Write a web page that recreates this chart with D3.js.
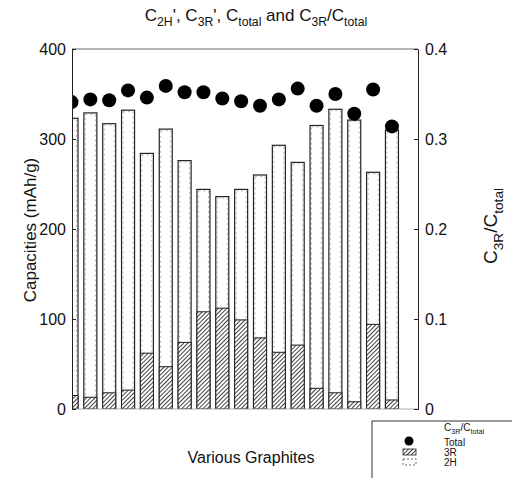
<!DOCTYPE html>
<html>
<head>
<meta charset="utf-8">
<script src="https://cdn.jsdelivr.net/npm/d3@7"></script>
<style>
  body { margin: 0; background: #fff; }
  text { font-family: "Liberation Sans", Arial, sans-serif; fill: #111; }
</style>
</head>
<body>
<div id="chart"></div>
<script>
// graphite samples (no labels shown on the axis)
const graphites = ["G1", "G2", "G3", "G4", "G5", "G6", "G7", "G8", "G9",
  "G10", "G11", "G12", "G13", "G14", "G15", "G16", "G17", "G18"];

// total capacity (mAh/g)
const totalCap = [323, 329, 317, 332, 284, 311, 276, 244, 236, 244, 260, 293, 274, 315, 333, 321, 263, 310];
// 3R capacity (mAh/g)
const cap3R = [15, 13, 18, 21, 62, 47, 74, 108, 112, 99, 79, 63, 71, 23, 18, 8, 94, 10];
// C3R / Ctotal (right axis)
const ratio = [0.341, 0.344, 0.343, 0.354, 0.346, 0.359, 0.352, 0.352, 0.345,
  0.342, 0.337, 0.344, 0.356, 0.337, 0.350, 0.328, 0.355, 0.314];

const leftTicks = [0, 100, 200, 300, 400];
const rightTicks = [0, 0.1, 0.2, 0.3, 0.4];

const bigWidth = 512, bigHeight = 478;
const plot = {left: 72, right: 418, top: 49, bottom: 409};

const svg = d3.select("#chart").append("svg")
  .attr("width", bigWidth)
  .attr("height", bigHeight);

const defs = svg.append("defs");
defs.append("clipPath").attr("id", "clip")
  .append("rect")
  .attr("x", plot.left).attr("y", 30)
  .attr("width", plot.right - plot.left).attr("height", plot.bottom - 30);

// hatch for the 3R part
const hatch = defs.append("pattern")
  .attr("id", "hatch")
  .attr("patternUnits", "userSpaceOnUse")
  .attr("width", 3).attr("height", 3)
  .attr("patternTransform", "rotate(45)");
hatch.append("rect").attr("width", 3).attr("height", 3).attr("fill", "#fff");
hatch.append("line")
  .attr("x1", 0).attr("y1", 0).attr("x2", 0).attr("y2", 3)
  .attr("stroke", "#111").attr("stroke-width", 1.6);

// scales
const step = 18.85;
const x0 = 71.5 - step / 2;
const xScale = d3.scaleBand()
  .domain(graphites)
  .range([x0, x0 + step * graphites.length])
  .paddingInner(0.31)
  .paddingOuter(0.155);

const yLeft = d3.scaleLinear().domain([0, 400]).range([plot.bottom, plot.top]);
const yRight = d3.scaleLinear().domain([0, 0.4]).range([plot.bottom, plot.top]);

const marks = svg.append("g").attr("clip-path", "url(#clip)");

// total bars (outline)
marks.selectAll(".total")
  .data(graphites)
  .enter().append("rect")
  .attr("class", "total")
  .attr("x", d => xScale(d))
  .attr("y", (d, i) => yLeft(totalCap[i]))
  .attr("width", xScale.bandwidth())
  .attr("height", (d, i) => yLeft(0) - yLeft(totalCap[i]))
  .attr("fill", "#fff")
  .attr("stroke", "#222")
  .attr("stroke-width", 1.2);

// 2H part, dashed, stacked above 3R
marks.selectAll(".h2")
  .data(graphites)
  .enter().append("rect")
  .attr("class", "h2")
  .attr("x", d => xScale(d) + 1.5)
  .attr("y", (d, i) => yLeft(totalCap[i]) + 1.5)
  .attr("width", xScale.bandwidth() - 3)
  .attr("height", (d, i) => yLeft(cap3R[i]) - yLeft(totalCap[i]) - 1.5)
  .attr("fill", "none")
  .attr("stroke", "#888")
  .attr("stroke-width", 0.6)
  .attr("stroke-dasharray", "2,3");

// 3R part, hatched
marks.selectAll(".r3")
  .data(graphites)
  .enter().append("rect")
  .attr("class", "r3")
  .attr("x", d => xScale(d))
  .attr("y", (d, i) => yLeft(cap3R[i]))
  .attr("width", xScale.bandwidth())
  .attr("height", (d, i) => yLeft(0) - yLeft(cap3R[i]))
  .attr("fill", "url(#hatch)")
  .attr("stroke", "#222")
  .attr("stroke-width", 1);

// ratio dots
marks.selectAll(".dot")
  .data(graphites)
  .enter().append("circle")
  .attr("class", "dot")
  .attr("cx", d => xScale(d) + xScale.bandwidth() / 2)
  .attr("cy", (d, i) => yRight(ratio[i]))
  .attr("r", 7)
  .attr("fill", "#000");

// frame
svg.append("line")
  .attr("x1", plot.left).attr("x2", plot.right)
  .attr("y1", plot.top).attr("y2", plot.top)
  .attr("stroke", "#666").attr("stroke-width", 1);
svg.append("line")
  .attr("x1", plot.left).attr("x2", plot.right)
  .attr("y1", plot.bottom).attr("y2", plot.bottom)
  .attr("stroke", "#999").attr("stroke-width", 0.8);

// left axis
const leftAxis = svg.append("g")
  .attr("transform", `translate(${plot.left},0)`)
  .call(d3.axisLeft(yLeft).tickValues(leftTicks).tickSize(-4).tickPadding(6).tickFormat(d3.format("d")));
leftAxis.select(".domain").attr("stroke", "#222");
leftAxis.selectAll("line").attr("stroke", "#222");
leftAxis.selectAll("text").attr("font-size", 16).style("font-family", "Liberation Sans, Arial, sans-serif");

// right axis
const rightAxis = svg.append("g")
  .attr("transform", `translate(${plot.right},0)`)
  .call(d3.axisRight(yRight).tickValues(rightTicks).tickSize(-4).tickPadding(7)
    .tickFormat(d => d === 0 ? "0" : d3.format(".1f")(d)));
rightAxis.select(".domain").attr("stroke", "#222");
rightAxis.selectAll("line").attr("stroke", "#222");
rightAxis.selectAll("text").attr("font-size", 16).style("font-family", "Liberation Sans, Arial, sans-serif");

// text with subscripts
function subText(sel, parts, size) {
  parts.forEach(p => {
    const t = sel.append("tspan").text(p[0]);
    if (p[1]) t.attr("font-size", size * 0.72).attr("dy", size * 0.3);
    else if (p[2]) t.attr("dy", -size * 0.3);
  });
}

const title = svg.append("text")
  .attr("x", 256).attr("y", 21)
  .attr("text-anchor", "middle")
  .attr("font-size", 17);
subText(title, [["C"], ["2H", true], ["', C", false, true], ["3R", true], ["', C", false, true],
  ["total", true], [" and C", false, true], ["3R", true], ["/C", false, true], ["total", true]], 17);

// y label left
svg.append("text")
  .attr("transform", "translate(36,230) rotate(-90)")
  .attr("text-anchor", "middle")
  .attr("font-size", 17)
  .text("Capacities (mAh/g)");

// y label right
const rightLabel = svg.append("text")
  .attr("transform", "translate(497,226) rotate(-90)")
  .attr("text-anchor", "middle")
  .attr("font-size", 19);
subText(rightLabel, [["C"], ["3R", true], ["/C", false, true], ["total", true]], 19);

// x label
svg.append("text")
  .attr("x", 251).attr("y", 463)
  .attr("text-anchor", "middle")
  .attr("font-size", 16)
  .text("Various Graphites");

// legend
const legend = svg.append("g");
legend.append("rect")
  .attr("x", 372).attr("y", 421)
  .attr("width", 150).attr("height", 70)
  .attr("fill", "#fff").attr("stroke", "#333").attr("stroke-width", 1);

const lt = legend.append("text").attr("x", 444).attr("y", 431).attr("font-size", 10);
subText(lt, [["C"], ["3R", true], ["/C", false, true], ["total", true]], 10);
legend.append("text").attr("x", 444).attr("y", 446).attr("font-size", 10).text("Total");
legend.append("text").attr("x", 444).attr("y", 456).attr("font-size", 10).text("3R");
legend.append("text").attr("x", 444).attr("y", 466).attr("font-size", 10).text("2H");

legend.append("circle").attr("cx", 409).attr("cy", 441).attr("r", 4.5).attr("fill", "#000");
legend.append("rect")
  .attr("x", 403).attr("y", 449).attr("width", 13).attr("height", 6)
  .attr("fill", "url(#hatch)").attr("stroke", "#222").attr("stroke-width", 0.8);
legend.append("rect")
  .attr("x", 403).attr("y", 459).attr("width", 13).attr("height", 6)
  .attr("fill", "none").attr("stroke", "#444").attr("stroke-width", 0.8)
  .attr("stroke-dasharray", "2,2");
</script>
</body>
</html>
